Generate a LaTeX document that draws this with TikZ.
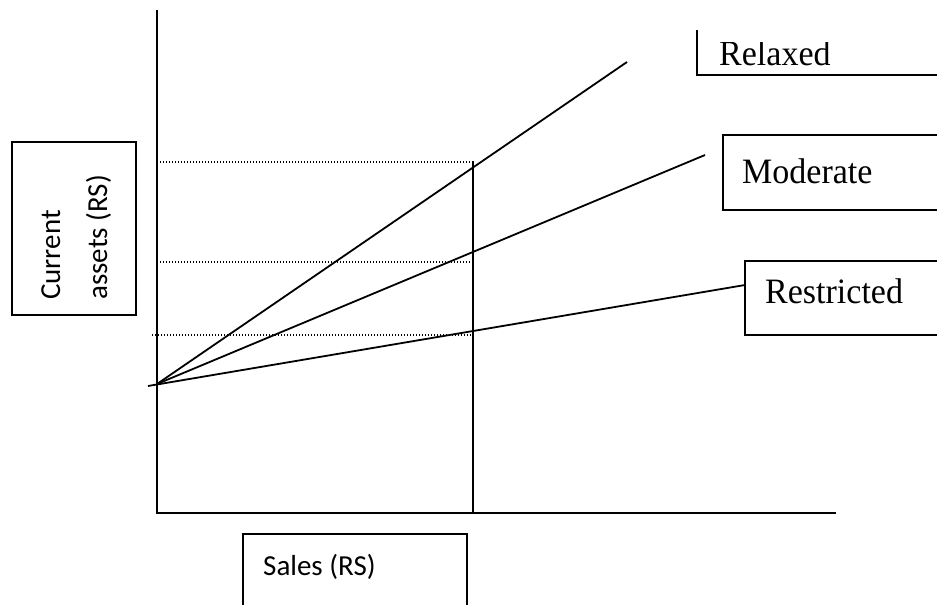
\documentclass[tikz,border=0pt]{standalone}
\usepackage{fontspec}
\setmainfont{Liberation Serif}
\newfontfamily\calibri{Carlito}
\begin{document}
\begin{tikzpicture}[x=1pt,y=-1pt,
  axis/.style={line width=2pt},
  ray/.style={line width=1.8pt},
  guide/.style={line width=1.2pt, dash pattern=on 1.2pt off 1.8pt},
  box/.style={line width=1.6pt},
  serlabel/.style={anchor=base west, inner sep=0pt, yscale=1.05, font=\fontsize{34}{40}\selectfont},
  sanslabel/.style={anchor=base west, inner sep=0pt, font=\calibri\fontsize{29}{34}\selectfont}]
\useasboundingbox (0,0) rectangle (937,605);
\clip (0,0) rectangle (937,605);
% axes
\coordinate (Ytop) at (157,10);
\coordinate (O) at (157,513);
\coordinate (Xend) at (836,513);
\draw[axis] (Ytop) -- (O) -- (Xend);
% rays
\coordinate (P) at (157,384);
\coordinate (Pl) at (148,386);
\coordinate (Rx) at (627,62);
\coordinate (Md) at (705,155);
\coordinate (Rs) at (745,285);
\draw[ray] (P) -- (Rx);
\draw[ray] (P) -- (Md);
\draw[ray] (Pl) -- (Rs);
% vertical sales line
\coordinate (Vtop) at (473,161);
\coordinate (Vbot) at (473,513);
\draw[axis] (Vtop) -- (Vbot);
% dotted guides
\coordinate (G1a) at (160,162); \coordinate (G1b) at (473,162);
\coordinate (G2a) at (160,262); \coordinate (G2b) at (473,262);
\coordinate (G3a) at (152,335); \coordinate (G3b) at (473,335);
\draw[guide] (G1a) -- (G1b);
\draw[guide] (G2a) -- (G2b);
\draw[guide] (G3a) -- (G3b);
% boxes
\draw[box] (697,30) -- (697,75) -- (945,75);
\draw[box] (945,135) -- (723,135) -- (723,210) -- (945,210);
\draw[box] (945,261) -- (745,261) -- (745,335) -- (945,335);
\draw[box] (243,615) -- (243,534) -- (467,534) -- (467,615);
\draw[box] (12,142) rectangle (136,315);
% labels
\begin{scope}
\clip (690,42) rectangle (937,80);
\node[serlabel] (relaxed) at (719,65) {Relaxed};
\end{scope}
\node[serlabel] (moderate) at (742,183) {Moderate};
\node[serlabel] (restricted) at (765,303) {Restricted};
\node[sanslabel] (sales) at (263,575) {Sales (RS)};
\node[sanslabel, rotate=90] (curr) at (60,300) {Current};
\node[sanslabel, rotate=90] (assets) at (107,300) {assets (RS)};
\end{tikzpicture}
\end{document}
